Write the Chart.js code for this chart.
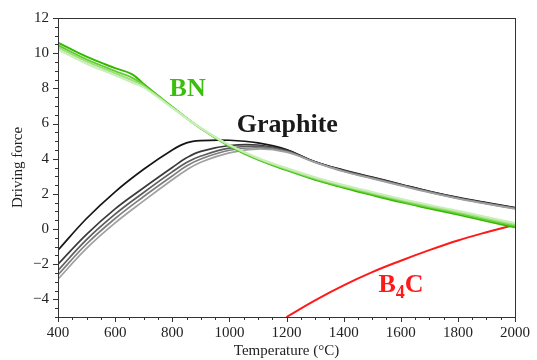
<!DOCTYPE html>
<html>
<head>
<meta charset="utf-8">
<script src="https://cdn.jsdelivr.net/npm/chart.js@4.4.1/dist/chart.umd.min.js"></script>
<style>
  html, body { margin: 0; padding: 0; background: #fff; }
  #wrap { width: 537px; height: 360px; }
</style>
</head>
<body>
<div id="wrap"><canvas id="myChart" width="537" height="360"></canvas></div>
<script>
// graphite curves (dark -> light)
var gTemps = [400, 500, 600, 700, 800, 850, 900, 1000, 1100, 1200, 1300, 1400, 1500, 1600, 1700, 1800, 1900, 2000];
var g1 = [-1.2, 0.6, 2.12, 3.4, 4.5, 4.9, 5.03, 5.05, 4.9, 4.52, 3.82, 3.35, 2.95, 2.55, 2.15, 1.8, 1.5, 1.22];
var g2 = [-2.0, -0.3, 1.15, 2.35, 3.5, 4.05, 4.42, 4.75, 4.78, 4.48, 3.83, 3.33, 2.93, 2.53, 2.13, 1.78, 1.48, 1.2];
var g3 = [-2.35, -0.6, 0.85, 2.08, 3.25, 3.78, 4.15, 4.6, 4.7, 4.44, 3.81, 3.31, 2.91, 2.51, 2.11, 1.76, 1.46, 1.18];
var g4 = [-2.6, -0.85, 0.6, 1.85, 3.02, 3.58, 3.98, 4.48, 4.62, 4.41, 3.8, 3.29, 2.89, 2.49, 2.1, 1.75, 1.45, 1.17];
var g5 = [-2.85, -1.1, 0.35, 1.6, 2.8, 3.36, 3.8, 4.33, 4.55, 4.37, 3.79, 3.27, 2.87, 2.47, 2.08, 1.73, 1.43, 1.15];

// BN curves (dark -> light)
var bnTemps = [400, 500, 600, 660, 700, 800, 900, 1000, 1100, 1200, 1300, 1400, 1500, 1600, 1700, 1800, 1900, 2000];
var bn1 = [10.6, 9.8, 9.15, 8.8, 8.25, 6.95, 5.72, 4.72, 3.95, 3.35, 2.8, 2.35, 1.93, 1.53, 1.17, 0.82, 0.45, 0.1];
var bn2 = [10.45, 9.65, 8.98, 8.6, 8.18, 6.93, 5.72, 4.74, 3.98, 3.39, 2.85, 2.4, 1.99, 1.6, 1.24, 0.9, 0.53, 0.18];
var bn3 = [10.33, 9.53, 8.86, 8.45, 8.12, 6.91, 5.73, 4.76, 4.01, 3.43, 2.9, 2.45, 2.05, 1.66, 1.3, 0.97, 0.61, 0.26];
var bn4 = [10.2, 9.4, 8.74, 8.32, 8.05, 6.89, 5.74, 4.78, 4.04, 3.47, 2.95, 2.5, 2.11, 1.72, 1.37, 1.04, 0.69, 0.34];

// B4C curve
var b4cTemps = [1200, 1300, 1400, 1500, 1600, 1700, 1800, 1900, 2000];
var b4c = [-5.0, -4.05, -3.2, -2.45, -1.8, -1.2, -0.65, -0.18, 0.25];

function pts(xs, ys) {
    return xs.map(function (x, i) { return { x: x, y: ys[i] }; });
}

function line(xs, ys, color, w) {
    return {
        data: pts(xs, ys),
        borderColor: color,
        borderWidth: w,
        pointRadius: 0,
        fill: false,
        tension: 0.4
    };
}

var serif = "'Liberation Serif', 'Times New Roman', serif";

// axis box + outward tick marks
var tickPlugin = {
    id: 'tickmarks',
    afterDraw: function (chart) {
        var ctx = chart.ctx, a = chart.chartArea;
        var xs = chart.scales.x, ys = chart.scales.y;
        ctx.save();
        ctx.strokeStyle = '#333';
        ctx.lineWidth = 1;
        ctx.strokeRect(Math.round(a.left) + 0.5, Math.round(a.top) + 0.5,
            Math.round(a.right - a.left), Math.round(a.bottom - a.top));
        ctx.beginPath();
        xs.ticks.forEach(function (t) {
            var px = Math.round(xs.getPixelForValue(t.value)) + 0.5;
            var len = (t.value % 200 === 0) ? 5 : 3;
            ctx.moveTo(px, a.bottom);
            ctx.lineTo(px, a.bottom + len);
        });
        ys.ticks.forEach(function (t) {
            var py = Math.round(ys.getPixelForValue(t.value)) + 0.5;
            var len = (t.value % 2 === 0) ? 5 : 3;
            ctx.moveTo(a.left, py);
            ctx.lineTo(a.left - len, py);
        });
        ctx.stroke();
        ctx.restore();
    }
};

// curve labels
var labelPlugin = {
    id: 'curvelabels',
    afterDatasetsDraw: function (chart) {
        var ctx = chart.ctx;
        var xs = chart.scales.x, ys = chart.scales.y;
        ctx.save();
        ctx.textBaseline = 'middle';
        ctx.textAlign = 'center';
        ctx.font = 'bold 26px ' + serif;
        ctx.fillStyle = '#3cbf0c';
        ctx.fillText('BN', xs.getPixelForValue(854), ys.getPixelForValue(7.96));
        ctx.fillStyle = '#1a1a1a';
        ctx.fillText('Graphite', xs.getPixelForValue(1203), ys.getPixelForValue(5.91));

        // B4C with subscript
        ctx.textAlign = 'left';
        ctx.textBaseline = 'alphabetic';
        ctx.fillStyle = '#ff1a1a';
        var bx = xs.getPixelForValue(1522), by = ys.getPixelForValue(-3.58);
        ctx.font = 'bold 26px ' + serif;
        ctx.fillText('B', bx, by);
        bx += ctx.measureText('B').width;
        ctx.font = 'bold 18px ' + serif;
        ctx.fillText('4', bx, by + 6);
        bx += ctx.measureText('4').width;
        ctx.font = 'bold 26px ' + serif;
        ctx.fillText('C', bx, by);
        ctx.restore();
    }
};

new Chart("myChart", {
    type: "line",
    data: {
        datasets: [
            line(bnTemps, bn4, '#c8efb8', 2),
            line(bnTemps, bn3, '#9be07a', 2),
            line(bnTemps, bn2, '#66cc33', 2),
            line(bnTemps, bn1, '#33b800', 2),
            line(gTemps, g5, '#a0a0a0', 1.7),
            line(gTemps, g4, '#7e7e7e', 1.7),
            line(gTemps, g3, '#5c5c5c', 1.7),
            line(gTemps, g2, '#3a3a3a', 1.7),
            line(gTemps, g1, '#161616', 1.7),
            line(b4cTemps, b4c, '#ff1a1a', 2)
        ]
    },
    options: {
        responsive: false,
        animation: false,
        layout: { padding: { top: 18, right: 17, left: 0, bottom: 0 } },
        plugins: {
            legend: { display: false },
            tooltip: { enabled: false }
        },
        scales: {
            x: {
                type: 'linear',
                min: 400,
                max: 2000,
                afterFit: function (s) { s.height = 43; },
                grid: { display: false, drawTicks: false },
                border: { display: false },
                ticks: {
                    stepSize: 50,
                    autoSkip: false,
                    maxRotation: 0,
                    padding: 7,
                    color: '#222',
                    font: { family: serif, size: 15 },
                    callback: function (v) { return v % 200 === 0 ? String(v) : ''; }
                },
                title: {
                    display: true,
                    text: 'Temperature (°C)',
                    color: '#222',
                    padding: { top: 0, bottom: 0 },
                    font: { family: serif, size: 15 }
                }
            },
            y: {
                min: -5,
                max: 12,
                afterFit: function (s) { s.width = 58; },
                grid: { display: false, drawTicks: false },
                border: { display: false },
                ticks: {
                    stepSize: 0.5,
                    autoSkip: false,
                    padding: 9,
                    color: '#222',
                    font: { family: serif, size: 15 },
                    callback: function (v) {
                        if (v % 2 !== 0 || v < -4) return '';
                        return v < 0 ? '\u2212' + Math.abs(v) : String(v);
                    }
                },
                title: {
                    display: true,
                    text: 'Driving force',
                    color: '#222',
                    padding: { top: 9, bottom: 0 },
                    font: { family: serif, size: 15 }
                }
            }
        }
    },
    plugins: [tickPlugin, labelPlugin]
});
</script>
</body>
</html>
